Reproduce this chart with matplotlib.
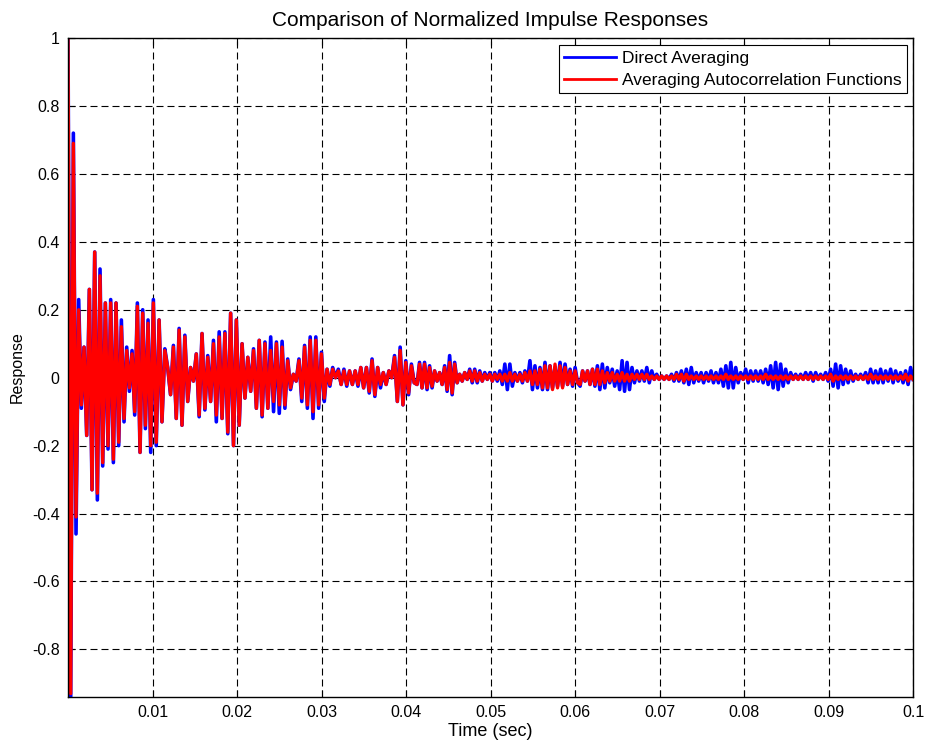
import numpy as np
import matplotlib
matplotlib.use("Agg")
import matplotlib.pyplot as plt

plt.rcParams['font.family'] = ['Liberation Sans', 'DejaVu Sans']

# segment boundaries (sec) and peak/trough values
seg_edges = [0.0, 0.0101, 0.025, 0.0413, 0.0606, 0.0796, 0.1003]

blue_0 = [1.0, -0.95, 0.72, -0.46, 0.23, -0.09, 0.09, -0.17, 0.26, -0.33,
          0.37, -0.36, 0.32, -0.26, 0.22, -0.21, 0.23, -0.25, 0.22, -0.20,
          0.17, -0.13, 0.09, -0.04, 0.08, -0.11, 0.22, -0.22, 0.20, -0.15,
          0.17, -0.22]
red_0 = [1.0, -0.93, 0.69, -0.41, 0.20, -0.08, 0.09, -0.17, 0.26, -0.33,
         0.37, -0.34, 0.30, -0.25, 0.22, -0.20, 0.22, -0.24, 0.22, -0.19,
         0.15, -0.12, 0.08, -0.03, 0.07, -0.10, 0.21, -0.22, 0.19, -0.14,
         0.16, -0.20]

blue_1 = [0.23, -0.20, 0.17, -0.13, 0.085, 0.03, -0.05, 0.095, -0.12, 0.145,
          -0.14, 0.125, -0.07, 0.03, -0.01, 0.07, -0.115, 0.13, -0.095, 0.065,
          -0.07, 0.11, -0.13, 0.135, -0.12, 0.135, -0.165, 0.19, -0.20, 0.17,
          -0.14, 0.10, -0.06, 0.06, -0.04, 0.085, -0.09, 0.11, -0.115, 0.105,
          -0.09, 0.12, -0.10, 0.105]
red_1 = [0.22, -0.19, 0.17, -0.13, 0.08, 0.03, -0.05, 0.09, -0.12, 0.14,
         -0.14, 0.12, -0.07, 0.03, -0.01, 0.07, -0.11, 0.13, -0.09, 0.06,
         -0.07, 0.10, -0.11, 0.12, -0.12, 0.13, -0.16, 0.19, -0.20, 0.17,
         -0.14, 0.10, -0.06, 0.06, -0.04, 0.08, -0.09, 0.11, -0.11, 0.10,
         -0.09, 0.08, -0.07, 0.10]

blue_2 = [-0.105, 0.107, -0.09, 0.055, -0.035, 0.01, -0.01, 0.055, -0.07, 0.095,
          -0.09, 0.12, -0.12, 0.12, -0.09, 0.075, -0.07, 0.025, -0.025, 0.03,
          0.0, 0.025, -0.02, 0.025, -0.025, 0.02, -0.02, 0.02, -0.025, 0.03,
          -0.03, 0.03, -0.045, 0.055, -0.055, 0.03, -0.03, 0.015, -0.02, 0.02,
          0.0, 0.065, -0.07, 0.09, -0.08, 0.05, -0.05, 0.04, -0.015]
red_2 = [-0.08, 0.09, -0.08, 0.05, -0.03, 0.01, -0.01, 0.05, -0.06, 0.09,
         -0.08, 0.11, -0.10, 0.11, -0.08, 0.07, -0.06, 0.025, -0.02, 0.025,
         0.0, 0.02, -0.02, 0.02, -0.02, 0.02, -0.02, 0.02, -0.02, 0.03,
         -0.03, 0.03, -0.04, 0.05, -0.05, 0.03, -0.02, 0.015, -0.02, 0.02,
         0.0, 0.06, -0.07, 0.08, -0.08, 0.045, -0.045, 0.035, -0.015]

blue_3 = [-0.02, 0.045, -0.03, 0.045, -0.035, 0.035, -0.03, 0.02, -0.01, 0.015,
          -0.02, 0.035, -0.04, 0.065, -0.05, 0.045, -0.015, 0.01, -0.01, 0.015,
          -0.005, 0.025, -0.015, 0.025, -0.015, 0.02, -0.01, 0.015, -0.005, 0.015,
          -0.01, 0.015, -0.01, 0.02, -0.02, 0.04, -0.035, 0.04, -0.025, 0.015,
          -0.01, 0.015, -0.015, 0.02, -0.01, 0.05, -0.035, 0.035, -0.03, 0.03,
          -0.035, 0.045, -0.035, 0.035, -0.03, 0.03, -0.025, 0.045, -0.025, 0.04,
          -0.02, 0.025, -0.025, 0.03, -0.015]
red_3 = [-0.02, 0.04, -0.03, 0.04, -0.03, 0.03, -0.025, 0.02, -0.01, 0.015,
         -0.02, 0.03, -0.035, 0.045, -0.045, 0.04, -0.015, 0.01, -0.01, 0.015,
         -0.005, 0.02, -0.01, 0.02, -0.01, 0.015, -0.01, 0.01, -0.005, 0.01,
         -0.01, 0.01, -0.005, 0.01, -0.01, 0.01, -0.01, 0.015, -0.01, 0.01,
         -0.01, 0.01, -0.01, 0.015, -0.01, 0.02, -0.02, 0.02, -0.02, 0.025,
         -0.03, 0.035, -0.03, 0.035, -0.035, 0.04, -0.03, 0.035, -0.03, 0.03,
         -0.02, 0.02, -0.02, 0.02, -0.015]

blue_4 = [-0.025, 0.02, -0.01, 0.02, -0.02, 0.025, -0.025, 0.035, -0.035, 0.04,
          -0.03, 0.03, -0.015, 0.025, -0.025, 0.02, -0.035, 0.05, -0.04, 0.045,
          -0.035, 0.03, -0.015, 0.02, -0.01, 0.02, -0.01, 0.03, -0.015, 0.02,
          -0.005, 0.01, -0.005, 0.005, -0.005, 0.005, -0.005, 0.01, -0.01, 0.015,
          -0.01, 0.02, -0.015, 0.025, -0.02, 0.03, -0.015, 0.015, -0.01, 0.015,
          -0.015, 0.015, -0.01, 0.02, -0.015, 0.015, -0.015, 0.025, -0.025, 0.035,
          -0.03, 0.045, -0.03, 0.03, -0.015]
red_4 = [-0.02, 0.02, -0.01, 0.02, -0.02, 0.025, -0.02, 0.025, -0.02, 0.02,
         -0.015, 0.015, -0.01, 0.015, -0.01, 0.01, -0.01, 0.015, -0.01, 0.01,
         -0.01, 0.01, -0.005, 0.01, -0.005, 0.01, -0.005, 0.01, -0.005, 0.005,
         -0.005, 0.005, -0.005, 0.005, -0.005, 0.005, -0.005, 0.005, -0.005, 0.01,
         -0.005, 0.01, -0.01, 0.01, -0.005, 0.005, -0.005, 0.005, -0.005, 0.005,
         -0.005, 0.005, -0.005, 0.005, -0.005, 0.005, -0.005, 0.005, -0.005, 0.01,
         -0.005, 0.005, -0.005, 0.005, -0.005]

blue_5 = [0.015, -0.005, 0.025, -0.015, 0.02, -0.01, 0.02, -0.01, 0.02, -0.015,
          0.025, -0.02, 0.035, -0.03, 0.045, -0.035, 0.04, -0.025, 0.025, -0.015,
          0.015, -0.005, 0.01, -0.005, 0.01, -0.005, 0.015, -0.005, 0.015, -0.01,
          0.015, -0.005, 0.01, -0.005, 0.015, -0.01, 0.025, -0.025, 0.04, -0.03,
          0.035, -0.02, 0.025, -0.015, 0.02, -0.01, 0.01, -0.005, 0.01, -0.005,
          0.015, -0.015, 0.025, -0.015, 0.02, -0.015, 0.025, -0.015, 0.02, -0.01,
          0.025, -0.015, 0.02, -0.01, 0.015, -0.015, 0.02, -0.02, 0.03, -0.005]
red_5 = [0.005, -0.005, 0.005, -0.005, 0.005, -0.005, 0.005, -0.005, 0.005, -0.005,
         0.01, -0.005, 0.005, -0.005, 0.005, -0.005, 0.005, -0.005, 0.005, -0.005,
         0.005, -0.005, 0.005, -0.005, 0.005, -0.005, 0.005, -0.005, 0.005, -0.005,
         0.005, -0.005, 0.005, -0.005, 0.005, -0.005, 0.01, -0.01, 0.005, -0.005,
         0.005, -0.005, 0.005, -0.005, 0.005, -0.005, 0.005, -0.005, 0.005, -0.005,
         0.005, -0.005, 0.01, -0.005, 0.005, -0.005, 0.005, -0.005, 0.005, -0.005,
         0.005, -0.005, 0.005, -0.005, 0.005, -0.005, 0.01, -0.01, 0.005, -0.005]

blue_segs = [blue_0, blue_1, blue_2, blue_3, blue_4, blue_5]
red_segs = [red_0, red_1, red_2, red_3, red_4, red_5]

x_ticks = [0.01, 0.02, 0.03, 0.04, 0.05, 0.06, 0.07, 0.08, 0.09, 0.1]
x_tick_labels = ['0.01', '0.02', '0.03', '0.04', '0.05', '0.06', '0.07', '0.08', '0.09', '0.1']
y_ticks = [-0.8, -0.6, -0.4, -0.2, 0, 0.2, 0.4, 0.6, 0.8, 1]
y_tick_labels = ['-0.8', '-0.6', '-0.4', '-0.2', '0', '0.2', '0.4', '0.6', '0.8', '1']


def build_series(segs):
    t_parts, v_parts = [], []
    for i, vals in enumerate(segs):
        t_parts.append(np.linspace(seg_edges[i], seg_edges[i + 1], len(vals), endpoint=False))
        v_parts.append(np.array(vals))
    return np.concatenate(t_parts), np.concatenate(v_parts)


t_blue, y_blue = build_series(blue_segs)
t_red, y_red = build_series(red_segs)

fig = plt.figure(figsize=(9.28, 7.44), dpi=100)
ax = fig.add_axes([0.0733, 0.0632, 0.9106, 0.8857])

ax.plot(t_blue, y_blue, color=(0, 0, 1), lw=2.6, label='Direct Averaging')
ax.plot(t_red, y_red, color=(1, 0, 0), lw=2.4, label='Averaging Autocorrelation Functions')

ax.set_xlim(0, 0.1)
ax.set_ylim(-0.94, 1.0)
ax.set_xticks(x_ticks)
ax.set_xticklabels(x_tick_labels)
ax.set_yticks(y_ticks)
ax.set_yticklabels(y_tick_labels)
ax.tick_params(direction='in', top=True, right=True, length=5, labelsize=11.5, pad=6)
ax.grid(True, color='k', linestyle=(0, (6.3, 3.6)), lw=0.8)
for s in ax.spines.values():
    s.set_linewidth(1.0)

ax.set_title('Comparison of Normalized Impulse Responses', fontsize=15, pad=8.5)
ax.set_xlabel('Time (sec)', fontsize=13, labelpad=2)
ax.set_ylabel('Response', fontsize=11.5, labelpad=5)

leg = ax.legend(loc='upper right', bbox_to_anchor=(0.993, 0.989), borderaxespad=0,
                fontsize=12.5, handlelength=3.0, handletextpad=0.35, fancybox=False,
                framealpha=1, edgecolor='k', borderpad=0.3, labelspacing=0.42)
leg.get_frame().set_linewidth(0.8)
for h in leg.get_lines():
    h.set_linewidth(2.0)

fig.savefig('out.png', dpi=100)
